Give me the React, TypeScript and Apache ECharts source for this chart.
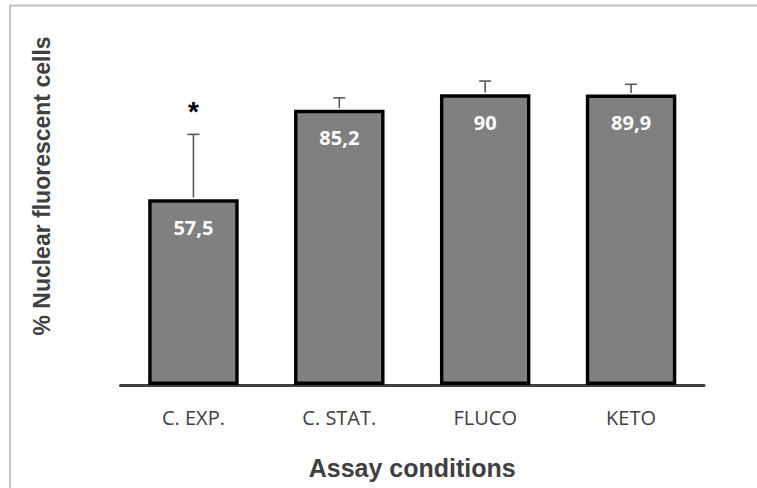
import React, { useEffect, useRef } from "react";
import * as echarts from "echarts";

// Assay conditions and the share of nuclear fluorescent cells (%)
const categories = ["C. EXP.", "C. STAT.", "FLUCO", "KETO"];
const values = [57.5, 85.2, 90, 89.9];
const valueLabels = ["57,5", "85,2", "90", "89,9"];
// Upper standard deviation drawn above each bar
const errors = [20.1, 3.7, 4.1, 3.2];
// Significance marks printed over the error bars
const significance = ["*", "", "", ""];

const yTitle = "% Nuclear fluorescent cells";
const xTitle = "Assay conditions";

export default function App() {
  const ref = useRef<HTMLDivElement>(null);

  useEffect(() => {
    if (!ref.current) return;
    const chart = echarts.init(ref.current, null, { renderer: "svg" });

    const errorData = values.map((v, i) => [i, v, v + errors[i]]);

    chart.setOption({
      animation: false,
      backgroundColor: "#ffffff",
      grid: { left: 120.5, right: 53, top: 62, bottom: 103, containLabel: false },
      xAxis: {
        type: "category",
        data: categories,
        axisLine: { show: true, lineStyle: { color: "#404040", width: 3 } },
        axisTick: { show: false },
        axisLabel: {
          color: "#404040",
          fontFamily: "Open Sans",
          fontSize: 20,
          margin: 22,
        },
        name: xTitle,
        nameLocation: "middle",
        nameGap: 70,
        nameTextStyle: {
          color: "#404040",
          fontFamily: "Liberation Sans",
          fontWeight: "bold",
          fontSize: 25,
        },
      },
      yAxis: {
        type: "value",
        min: 0,
        max: 100,
        axisLine: { show: false },
        axisTick: { show: false },
        axisLabel: { show: false },
        splitLine: { show: false },
      },
      series: [
        {
          type: "bar",
          data: values,
          barCategoryGap: "38%",
          itemStyle: { color: "#808080", borderColor: "#000000", borderWidth: 3.4 },
          label: {
            show: true,
            position: "insideTop",
            distance: 18,
            color: "#ffffff",
            fontFamily: "Open Sans",
            fontWeight: "bold",
            fontSize: 20,
            formatter: (p: any) => valueLabels[p.dataIndex],
          },
          z: 2,
        },
        {
          type: "custom",
          data: errorData,
          z: 3,
          renderItem: (params: any, api: any) => {
            const i = api.value(0);
            const base = api.coord([i, api.value(1)]);
            const top = api.coord([i, api.value(2)]);
            const mark = significance[params.dataIndex];
            const half = 6;
            const children: any[] = [
              {
                type: "line",
                shape: { x1: base[0], y1: base[1] - 1.7, x2: top[0], y2: top[1] },
                style: { stroke: "#595959", lineWidth: 1.6 },
              },
              {
                type: "line",
                shape: { x1: top[0] - half, y1: top[1], x2: top[0] + half, y2: top[1] },
                style: { stroke: "#595959", lineWidth: 1.6 },
              },
            ];
            if (mark) {
              children.push({
                type: "text",
                style: {
                  text: mark,
                  x: top[0],
                  y: top[1] - 23,
                  align: "center",
                  verticalAlign: "middle",
                  fill: "#000000",
                  font: "bold 28px 'Liberation Sans'",
                },
              });
            }
            return { type: "group", children };
          },
        },
      ],
      graphic: [
        {
          type: "rect",
          shape: { x: 10, y: 5.5, width: 800, height: 600 },
          style: { fill: "none", stroke: "#c0c0c0", lineWidth: 2 },
          silent: true,
        },
        {
          type: "text",
          x: 42,
          y: 186,
          rotation: Math.PI / 2,
          style: {
            text: yTitle,
            align: "center",
            verticalAlign: "middle",
            fill: "#404040",
            font: "bold 23px 'Liberation Sans'",
          },
          silent: true,
        },
      ],
    });

    return () => chart.dispose();
  }, []);

  return (
    <div
      ref={ref}
      style={{ position: "fixed", left: 0, top: 0, width: 757, height: 488 }}
    />
  );
}
